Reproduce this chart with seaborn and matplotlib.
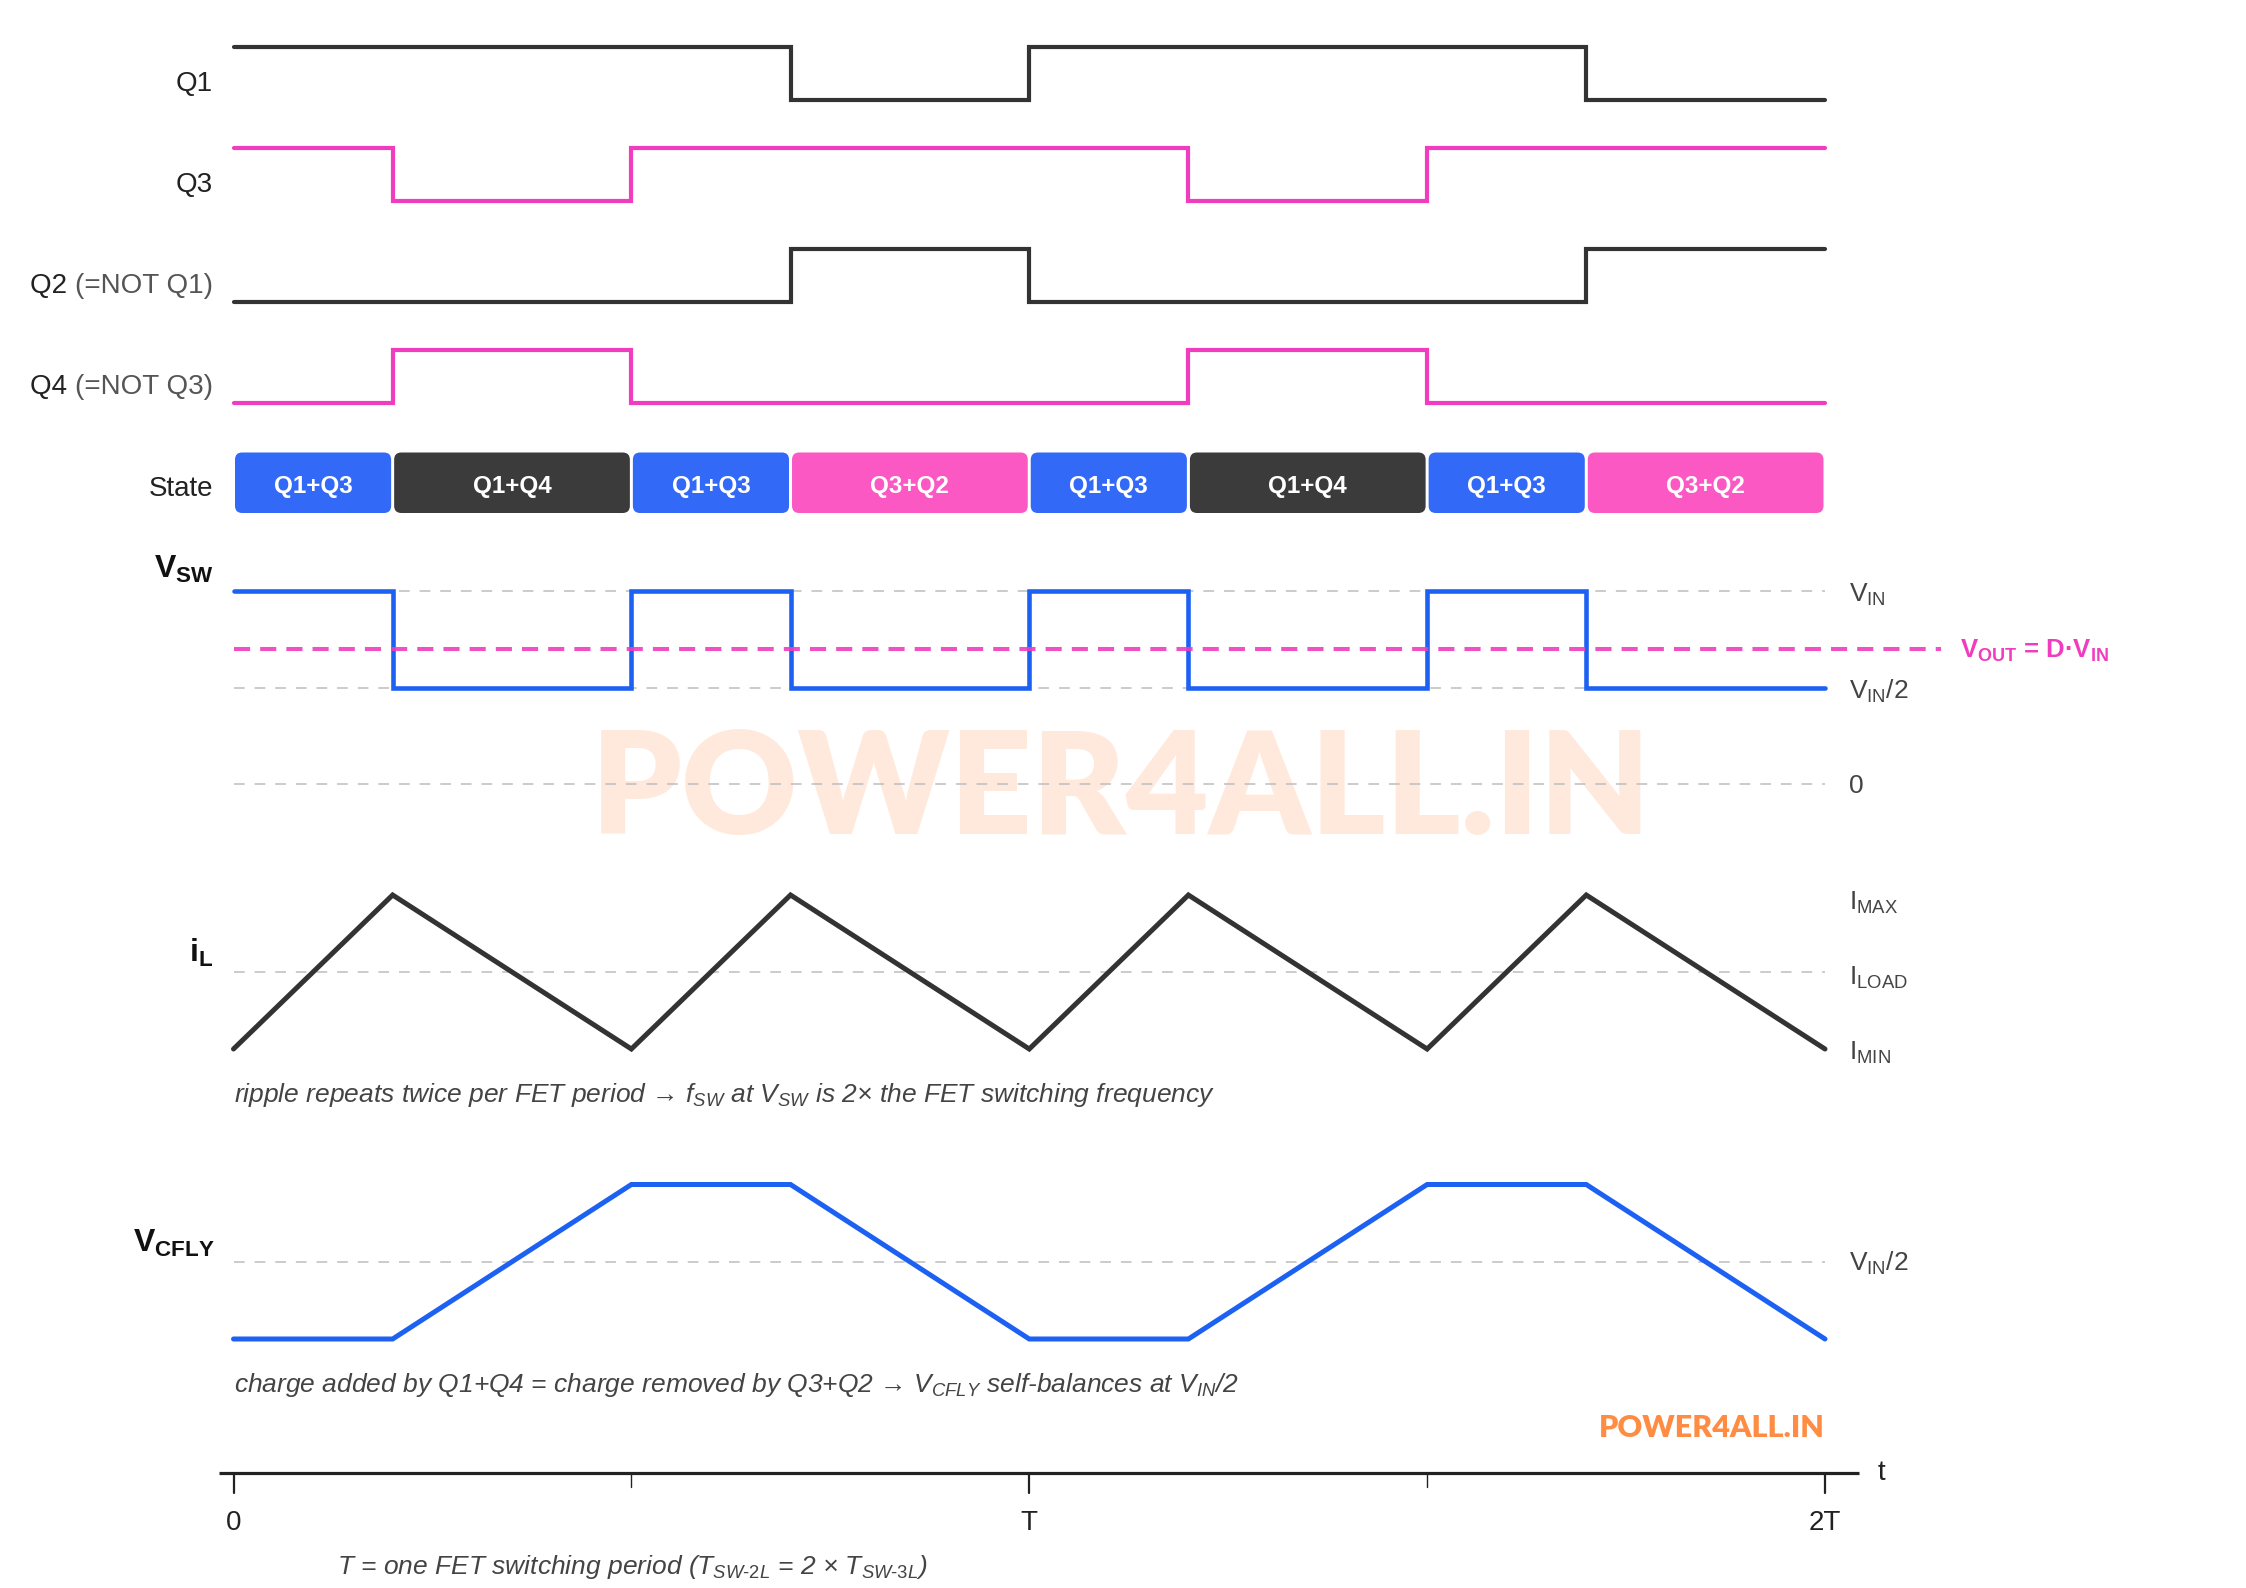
import numpy as np
import seaborn as sns
import matplotlib.pyplot as plt
from matplotlib.patches import FancyBboxPatch

# time axis in units of one FET period T
t_edges = [0.0, 0.2, 0.5, 0.7, 1.0, 1.2, 1.5, 1.7, 2.0]

# gate signals (steps-post, last value repeated)
q1 = [1, 1, 1, 0, 1, 1, 1, 0, 0]
q3 = [1, 0, 1, 1, 1, 0, 1, 1, 1]
q2 = [1 - v for v in q1]
q4 = [1 - v for v in q3]

states = ['Q1+Q3', 'Q1+Q4', 'Q1+Q3', 'Q3+Q2', 'Q1+Q3', 'Q1+Q4', 'Q1+Q3', 'Q3+Q2']

# V_SW in units of VIN, output = D*VIN
vsw = [1, 0.5, 1, 0.5, 1, 0.5, 1, 0.5, 0.5]
duty = 0.7

# inductor current (0 = IMIN, 1 = IMAX)
il = [0, 1, 0, 1, 0, 1, 0, 1, 0]
# flying cap voltage (0 = low, 1 = high, 0.5 = VIN/2)
vcfly = [0, 0, 1, 1, 0, 0, 1, 1, 0]

tick_pos = [0, 0.5, 1, 1.5, 2]
tick_lbl = ['0', '', 'T', '', '2T']

# colours
DARK = '#333333'
PINK = '#F03CBE'
BLUE = '#1D61F2'
state_col = {'Q1+Q3': '#3369F7', 'Q1+Q4': '#3B3B3B', 'Q3+Q2': '#FB58C3'}

sns.set_theme(style='white')
plt.rcParams['font.family'] = ['Liberation Sans', 'DejaVu Sans']
plt.rcParams['mathtext.fontset'] = 'custom'
plt.rcParams['mathtext.rm'] = 'Liberation Sans'
plt.rcParams['mathtext.it'] = 'Liberation Sans:italic'
plt.rcParams['mathtext.bf'] = 'Liberation Sans:bold'

W, H = 2246, 1588
PX = 795.75      # pixels per T
X0 = 233.5       # pixel of t = 0

fig = plt.figure(figsize=(W / 100, H / 100), dpi=100)
ax = fig.add_axes([0, 0, 1, 1])
ax.set_xlim(-X0 / PX, (W - X0) / PX)
ax.set_ylim(H, 0)
ax.axis('off')


def xp(px):
    # figure pixel -> time units
    return (px - X0) / PX


def trace(vals, top, amp, color, lw, steps=False):
    y = [top + (1 - v) * amp for v in vals]
    kw = dict(drawstyle='steps-post') if steps else {}
    sns.lineplot(x=t_edges, y=y, ax=ax, color=color, lw=lw, estimator=None,
                 sort=False, solid_joinstyle='miter', **kw)


def ref(y, x_end=2.0):
    ax.plot([0, x_end], [y, y], color='#BDBDBD', lw=1.1, dashes=(7, 6.5), zorder=1)


# watermark
ax.text(xp(1121), 792, 'POWER4ALL.IN', fontsize=103, fontweight='heavy', family='Lato',
        color='#FF8A3D', alpha=0.18, ha='center', va='center', zorder=0)

# gate rows
rows = [('Q1', '', q1, DARK), ('Q3', '', q3, PINK),
        ('Q2', '(=NOT Q1)', q2, DARK), ('Q4', '(=NOT Q3)', q4, PINK)]
for i, (name, note, vals, col) in enumerate(rows):
    top = 46.7 + 101 * i
    trace(vals, top, 53.5, col, 3.0, steps=True)
    ylab = top + 37
    if note:
        t = ax.text(xp(213), ylab, note, fontsize=20, color='#555555', ha='right', va='center')
        ax.annotate(name + ' ', xy=(0, 0.5), xycoords=t, fontsize=20, color='#222222',
                    ha='right', va='center')
    else:
        ax.text(xp(213), ylab, name, fontsize=20, color='#222222', ha='right', va='center')

# state bar
ax.text(xp(213), 489, 'State', fontsize=20, color='#222222', ha='right', va='center')
gap = 1.5 / PX
for s, a, b in zip(states, t_edges[:-1], t_edges[1:]):
    box = FancyBboxPatch((a + gap, 452.5), b - a - 2 * gap, 60.5,
                         boxstyle='round,pad=0,rounding_size=0.009',
                         mutation_aspect=PX, fc=state_col[s], ec='none', zorder=2)
    ax.add_patch(box)
    ax.text((a + b) / 2, 487, s, fontsize=17.5, fontweight='bold', color='white',
            ha='center', va='center', zorder=3)

# V_SW
vin_y, zero_y = 591, 784
ref(vin_y)
ref((vin_y + zero_y) / 2)
ref(zero_y)
trace(vsw, vin_y, zero_y - vin_y, BLUE, 3.3, steps=True)
vout_y = zero_y - duty * (zero_y - vin_y)
ax.plot([0, xp(1941)], [vout_y, vout_y], color=PINK, lw=2.9, dashes=(4, 2.5), alpha=0.9, zorder=2)
ax.text(xp(214), 569, r'$\mathbf{V_{SW}}$', fontsize=23, color='#111111', ha='right', va='center')
ax.text(xp(1849), vin_y + 4, r'$\mathrm{V_{IN}}$', fontsize=19, color='#444444', va='center')
ax.text(xp(1849), (vin_y + zero_y) / 2 + 4, r'$\mathrm{V_{IN}}$/2', fontsize=19, color='#444444', va='center')
ax.text(xp(1849), zero_y + 2, '0', fontsize=19, color='#444444', va='center')
ax.text(xp(1960), vout_y + 2, r'$\mathbf{V_{OUT}}$ = D·$\mathbf{V_{IN}}$', fontsize=18.5,
        fontweight='bold', color=PINK, va='center')

# inductor current
imax_y, imin_y = 895, 1049
ref((imax_y + imin_y) / 2)
trace(il, imax_y, imin_y - imax_y, DARK, 3.6)
ax.text(xp(213), 953, r'$\mathbf{i_L}$', fontsize=23, color='#111111', ha='right', va='center')
ax.text(xp(1849), imax_y + 8, r'$\mathrm{I_{MAX}}$', fontsize=19, color='#444444', va='center')
ax.text(xp(1849), (imax_y + imin_y) / 2 + 6, r'$\mathrm{I_{LOAD}}$', fontsize=19, color='#444444', va='center')
ax.text(xp(1849), imin_y + 4, r'$\mathrm{I_{MIN}}$', fontsize=19, color='#444444', va='center')
ax.text(0, 1095, r'ripple repeats twice per FET period → $f_{SW}$ at $V_{SW}$ is 2× the FET switching frequency',
        fontsize=19, style='italic', color='#444444', va='center')

# flying capacitor
vhi_y, vlo_y = 1184.5, 1339
ref((vhi_y + vlo_y) / 2)
trace(vcfly, vhi_y, vlo_y - vhi_y, BLUE, 3.6)
ax.text(xp(215), 1243, r'$\mathbf{V_{CFLY}}$', fontsize=23, color='#111111', ha='right', va='center')
ax.text(xp(1849), (vhi_y + vlo_y) / 2 + 2, r'$\mathrm{V_{IN}}$/2', fontsize=19, color='#444444', va='center')
ax.text(0, 1385, r'charge added by Q1+Q4 = charge removed by Q3+Q2 → $V_{CFLY}$ self-balances at $V_{IN}$/2',
        fontsize=19, style='italic', color='#444444', va='center')

ax.text(xp(1825), 1428, 'POWER4ALL.IN', fontsize=22, fontweight='heavy', family='Lato',
        color='#FF8C42', ha='right', va='center')

# time axis
axis_y = 1473
ax.plot([xp(219), xp(1859)], [axis_y, axis_y], color='#222222', lw=2.3, solid_capstyle='butt')
for p, lbl in zip(tick_pos, tick_lbl):
    ax.plot([p, p], [axis_y, axis_y + (20 if lbl else 14)], color='#222222', lw=1.6 if lbl else 1.0)
    if lbl:
        ax.text(p, 1523, lbl, fontsize=20, color='#222222', ha='center', va='center')
ax.text(xp(1878), 1473, 't', fontsize=20, color='#222222', va='center')
ax.text(xp(337), 1567, r'T = one FET switching period ($T_{SW\text{-}2L}$ = 2 × $T_{SW\text{-}3L}$)',
        fontsize=19, style='italic', color='#444444', va='center')

fig.savefig('out.png', dpi=100)
